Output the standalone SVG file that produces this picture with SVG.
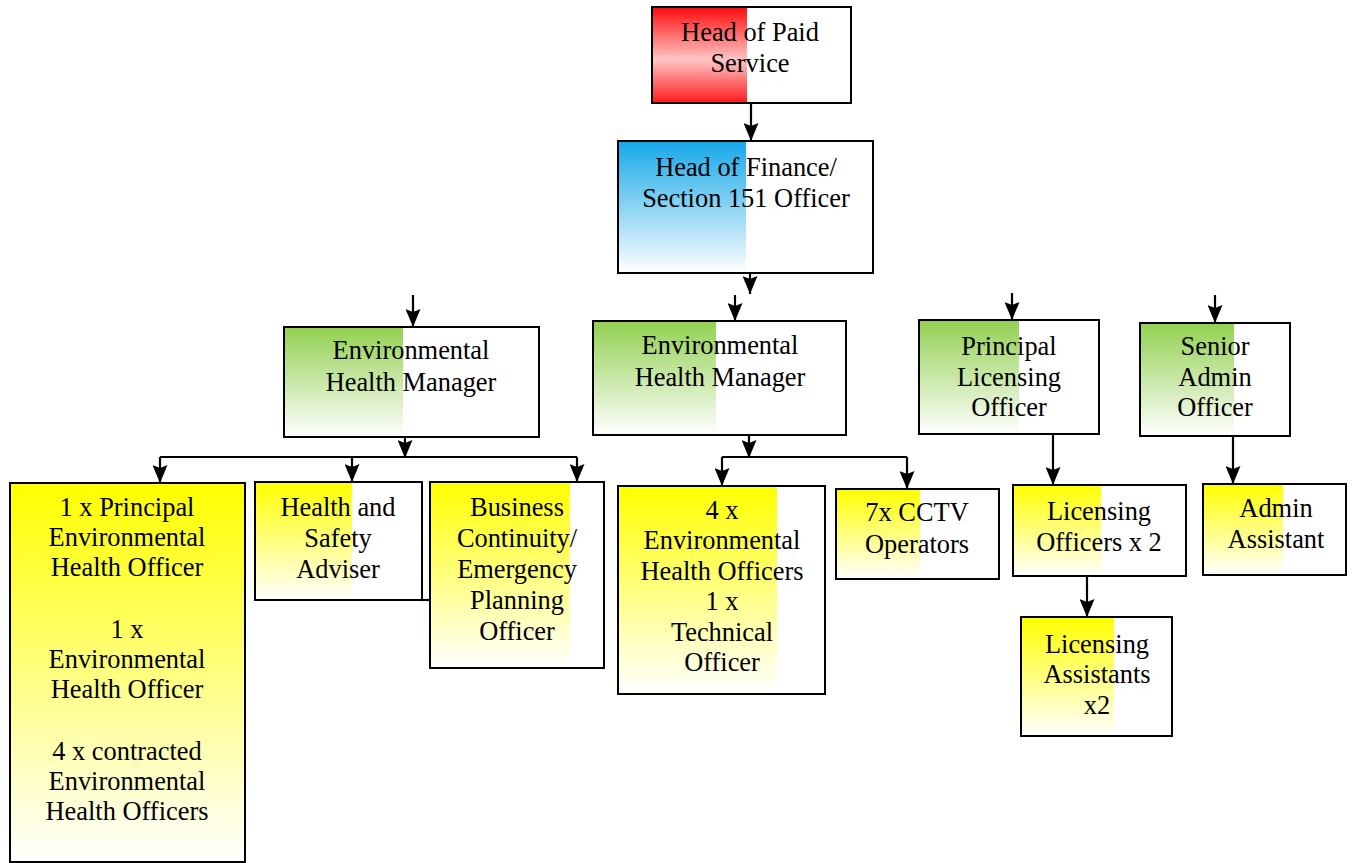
<svg xmlns="http://www.w3.org/2000/svg" width="1353" height="863" viewBox="0 0 1353 863">
<style>
.box{fill:none;stroke:#000;stroke-width:2}
.bg{fill:#fff}
.t{font-family:"Liberation Serif","DejaVu Serif",serif;font-size:26.4px;fill:#000;text-anchor:middle}
.c{fill:none;stroke:#000;stroke-width:2.2}
.a{marker-end:url(#ah)}
</style>
<defs>
<marker id="ah" markerUnits="userSpaceOnUse" markerWidth="18" markerHeight="15" viewBox="0 0 18 15" refX="18" refY="7.5" orient="auto">
<path d="M0,0 L18,7.5 L0,15 L3,7.5 z" fill="#000"/>
</marker>
<linearGradient id="gr" x1="0" y1="0" x2="0" y2="1">
<stop offset="0" stop-color="#ff0a0a"/><stop offset="0.55" stop-color="#ffc6c6"/><stop offset="1" stop-color="#ff1a1a"/>
</linearGradient>
<linearGradient id="gb" x1="0" y1="0" x2="0" y2="1">
<stop offset="0" stop-color="#16a8e8"/><stop offset="1" stop-color="#ffffff"/>
</linearGradient>
<linearGradient id="gg" x1="0" y1="0" x2="0" y2="1">
<stop offset="0" stop-color="#92d050"/><stop offset="1" stop-color="#ffffff"/>
</linearGradient>
<linearGradient id="gy" x1="0" y1="0" x2="0" y2="1">
<stop offset="0" stop-color="#ffff00"/><stop offset="1" stop-color="#ffffff"/>
</linearGradient>
</defs>
<rect width="1353" height="863" fill="#fff"/>

<g id="hps">
<rect class="bg" x="652" y="7" width="199" height="96"/>
<rect x="652" y="7" width="95" height="96" fill="url(#gr)"/>
<rect class="box" x="652" y="7" width="199" height="96"/>
<text class="t" x="750" y="41">Head of Paid</text>
<text class="t" x="750" y="72">Service</text>
</g>

<g id="hof">
<rect class="bg" x="618" y="141" width="255" height="132"/>
<rect x="618" y="141" width="128" height="132" fill="url(#gb)"/>
<rect class="box" x="618" y="141" width="255" height="132"/>
<text class="t" x="746" y="176">Head of Finance/</text>
<text class="t" x="746" y="207">Section 151 Officer</text>
</g>

<g id="ehm1">
<rect class="bg" x="284" y="327" width="255" height="110"/>
<rect x="284" y="327" width="119" height="110" fill="url(#gg)"/>
<rect class="box" x="284" y="327" width="255" height="110"/>
<text class="t" x="411" y="359">Environmental</text>
<text class="t" x="411" y="391">Health Manager</text>
</g>

<g id="ehm2">
<rect class="bg" x="593" y="321" width="253" height="114"/>
<rect x="593" y="321" width="123" height="114" fill="url(#gg)"/>
<rect class="box" x="593" y="321" width="253" height="114"/>
<text class="t" x="720" y="354">Environmental</text>
<text class="t" x="720" y="386">Health Manager</text>
</g>

<g id="plo">
<rect class="bg" x="919" y="320" width="180" height="114"/>
<rect x="919" y="320" width="100" height="114" fill="url(#gg)"/>
<rect class="box" x="919" y="320" width="180" height="114"/>
<text class="t" x="1009" y="355">Principal</text>
<text class="t" x="1009" y="386">Licensing</text>
<text class="t" x="1009" y="416">Officer</text>
</g>

<g id="sao">
<rect class="bg" x="1140" y="323" width="150" height="113"/>
<rect x="1140" y="323" width="94" height="113" fill="url(#gg)"/>
<rect class="box" x="1140" y="323" width="150" height="113"/>
<text class="t" x="1215" y="355">Senior</text>
<text class="t" x="1215" y="386">Admin</text>
<text class="t" x="1215" y="416">Officer</text>
</g>

<g id="pehos">
<rect x="10" y="483" width="235" height="379" fill="url(#gy)"/>
<rect class="box" x="10" y="483" width="235" height="379"/>
<text class="t" x="127" y="516">1 x Principal</text>
<text class="t" x="127" y="546">Environmental</text>
<text class="t" x="127" y="576">Health Officer</text>
<text class="t" x="127" y="638">1 x</text>
<text class="t" x="127" y="668">Environmental</text>
<text class="t" x="127" y="698">Health Officer</text>
<text class="t" x="127" y="760">4 x contracted</text>
<text class="t" x="127" y="790">Environmental</text>
<text class="t" x="127" y="820">Health Officers</text>
</g>

<g id="hs">
<rect class="bg" x="255" y="482" width="167" height="118"/>
<rect x="255" y="482" width="97" height="118" fill="url(#gy)"/>
<rect class="box" x="255" y="482" width="167" height="118"/>
<text class="t" x="338" y="516">Health and</text>
<text class="t" x="338" y="547">Safety</text>
<text class="t" x="338" y="578">Adviser</text>
</g>

<g id="bc">
<rect class="bg" x="430" y="482" width="174" height="186"/>
<rect x="430" y="482" width="140" height="186" fill="url(#gy)"/>
<rect class="box" x="430" y="482" width="174" height="186"/>
<text class="t" x="517" y="516">Business</text>
<text class="t" x="517" y="547">Continuity/</text>
<text class="t" x="517" y="578">Emergency</text>
<text class="t" x="517" y="609">Planning</text>
<text class="t" x="517" y="640">Officer</text>
</g>

<g id="eho">
<rect class="bg" x="618" y="486" width="207" height="208"/>
<rect x="618" y="486" width="159" height="208" fill="url(#gy)"/>
<rect class="box" x="618" y="486" width="207" height="208"/>
<text class="t" x="722" y="519">4 x</text>
<text class="t" x="722" y="549">Environmental</text>
<text class="t" x="722" y="580">Health Officers</text>
<text class="t" x="722" y="610">1 x</text>
<text class="t" x="722" y="641">Technical</text>
<text class="t" x="722" y="671">Officer</text>
</g>

<g id="cctv">
<rect class="bg" x="836" y="489" width="163" height="90"/>
<rect x="836" y="489" width="84" height="90" fill="url(#gy)"/>
<rect class="box" x="836" y="489" width="163" height="90"/>
<text class="t" x="917" y="521">7x CCTV</text>
<text class="t" x="917" y="553">Operators</text>
</g>

<g id="lo">
<rect class="bg" x="1013" y="485" width="173" height="91"/>
<rect x="1013" y="485" width="88" height="91" fill="url(#gy)"/>
<rect class="box" x="1013" y="485" width="173" height="91"/>
<text class="t" x="1099" y="520">Licensing</text>
<text class="t" x="1099" y="551">Officers x 2</text>
</g>

<g id="la">
<rect class="bg" x="1021" y="617" width="151" height="119"/>
<rect x="1021" y="617" width="93" height="119" fill="url(#gy)"/>
<rect class="box" x="1021" y="617" width="151" height="119"/>
<text class="t" x="1097" y="653">Licensing</text>
<text class="t" x="1097" y="683">Assistants</text>
<text class="t" x="1097" y="714">x2</text>
</g>

<g id="aa">
<rect class="bg" x="1203" y="484" width="143" height="91"/>
<rect x="1203" y="484" width="80" height="91" fill="url(#gy)"/>
<rect class="box" x="1203" y="484" width="143" height="91"/>
<text class="t" x="1276" y="517">Admin</text>
<text class="t" x="1276" y="548">Assistant</text>
</g>

<g id="connectors">
<path class="c a" d="M751,103 V141"/>
<path class="c a" d="M750,273 V294"/>
<path class="c a" d="M735,295 V321"/>
<path class="c a" d="M413,295 V327"/>
<path class="c a" d="M405,437 V458"/>
<path class="c" d="M160,457 H577"/>
<path class="c a" d="M160,457 V483"/>
<path class="c a" d="M352,457 V482"/>
<path class="c a" d="M577,457 V482"/>
<path class="c a" d="M749,435 V458"/>
<path class="c" d="M722,457 H907"/>
<path class="c a" d="M722,457 V486"/>
<path class="c a" d="M907,457 V489"/>
<path class="c a" d="M1012,293 V320"/>
<path class="c a" d="M1053,434 V485"/>
<path class="c a" d="M1087,576 V617"/>
<path class="c a" d="M1215,295 V323"/>
<path class="c a" d="M1233,436 V484"/>
<path class="c" d="M422,600 H430"/>
</g>
</svg>
